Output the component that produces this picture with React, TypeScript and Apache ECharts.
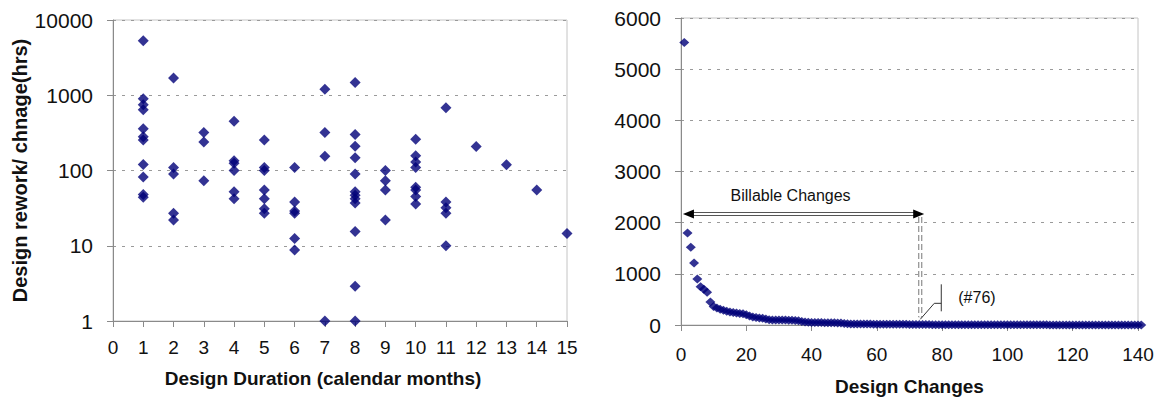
import React, { useEffect, useRef } from "react";
import * as echarts from "echarts";

// Left chart: design duration (months) vs design rework per change (hrs)
const durationMonths = [
  1, 1, 1, 1, 1, 1, 1, 1, 1, 1, 1,
  2, 2, 2, 2, 2,
  3, 3, 3,
  4, 4, 4, 4, 4, 4,
  5, 5, 5, 5, 5, 5, 5,
  6, 6, 6, 6, 6, 6,
  7, 7, 7, 7,
  8, 8, 8, 8, 8, 8, 8, 8, 8, 8, 8, 8,
  9, 9, 9, 9,
  10, 10, 10, 10, 10, 10, 10, 10,
  11, 11, 11, 11, 11,
  12, 13, 14, 15,
];
const reworkHours = [
  5300, 900, 750, 640, 360, 280, 255, 120, 82, 48, 44,
  1700, 110, 90, 27, 22,
  320, 240, 73,
  450, 135, 125, 100, 52, 42,
  255, 110, 100, 55, 42, 31, 27,
  110, 38, 29, 27, 12.5, 8.8,
  1200, 320, 155, 1,
  1480, 300, 210, 148, 90, 52, 47, 42, 37, 15.5, 2.9, 1,
  100, 73, 55, 22,
  260, 157, 130, 110, 60, 55, 45, 36,
  680, 38, 32, 27, 10,
  208, 119, 55, 14.5,
];

// Right chart: rework per design change, ranked (change #1 .. #141)
const rankedRework = [
  5520, 1800, 1520, 1210, 900, 750, 700, 640, 450, 360,
  330, 310, 290, 270, 255, 245, 235, 225, 220, 200,
  175, 155, 145, 135, 130, 115, 105, 100, 100, 98,
  97, 96, 95, 92, 90, 85, 70, 58, 52, 50,
  50, 48, 47, 46, 45, 44, 42, 40, 38, 28,
  22, 21, 20, 20, 19, 19, 18, 18, 17, 17,
  16, 16, 15, 15, 15, 14, 14, 13, 13, 12,
  12, 12, 11, 11, 10, 10,
  6, 6, 6, 5, 5, 5, 5, 5, 5, 5,
  5, 4, 4, 4, 4, 4, 4, 4, 4, 4,
  4, 4, 4, 3, 3, 3, 3, 3, 3, 3,
  3, 3, 3, 3, 3, 3, 2, 2, 2, 2,
  2, 2, 2, 2, 2, 2, 2, 2, 2, 2,
  2, 2, 2, 1, 1, 1, 1, 1, 1, 1,
  1, 1, 1, 1, 1,
];

// Annotation anchors (data coordinates of the right chart)
const billableStart = 0.6;
const billableEnd = 74.5;
const billableLevel = 2170;
const cutoffIndex = 73.3;
const cutoffLow = 150;
const billableLabel = "Billable Changes";
const cutoffLabel = "(#76)";

const FONT = "'Liberation Sans', Arial, sans-serif";
const NAVY = "#000078";
const AXIS = "#8a8a8a";
const GRID = "#9a9a9a";

export default function App() {
  const ref = useRef<HTMLDivElement>(null);

  useEffect(() => {
    if (!ref.current) return;
    const chart = echarts.init(ref.current, null, { renderer: "svg" });

    const leftData = durationMonths.map((m, i) => [m, reworkHours[i]]);
    const rightData = rankedRework.map((v, i) => [i + 1, v]);

    const splitLine = {
      show: true,
      lineStyle: { color: GRID, type: [3, 6] as any, width: 1 },
    };

    chart.setOption({
      animation: false,
      textStyle: { fontFamily: FONT },
      grid: [
        {
          left: 113, top: 20, width: 454, height: 301,
          show: true, borderColor: "#c4c4c4", borderWidth: 1,
          containLabel: false, outerBoundsMode: "none",
        },
        {
          left: 681, top: 18, width: 457, height: 307,
          show: true, borderColor: "#c4c4c4", borderWidth: 1,
          containLabel: false, outerBoundsMode: "none",
        },
      ],
      xAxis: [
        {
          gridIndex: 0, type: "value", min: 0, max: 15, interval: 1,
          axisLine: { show: true, lineStyle: { color: AXIS } },
          axisTick: { show: true, length: 6, lineStyle: { color: AXIS } },
          axisLabel: { fontSize: 19, color: "#111", margin: 17, fontFamily: FONT },
          splitLine: { show: false },
          name: "Design Duration (calendar months)",
          nameLocation: "middle", nameGap: 48,
          nameTextStyle: {
            fontSize: 19, fontWeight: "bold", color: "#111", fontFamily: FONT,
            padding: [0, 34, 0, 0],
          },
        },
        {
          gridIndex: 1, type: "value", min: 0, max: 140, interval: 20,
          axisLine: { show: true, lineStyle: { color: AXIS } },
          axisTick: { show: true, length: 6, lineStyle: { color: AXIS } },
          axisLabel: { fontSize: 19, color: "#111", margin: 20, fontFamily: FONT },
          splitLine: { show: false },
          name: "Design Changes",
          nameLocation: "middle", nameGap: 52,
          nameTextStyle: { fontSize: 19, fontWeight: "bold", color: "#111", fontFamily: FONT },
        },
      ],
      yAxis: [
        {
          gridIndex: 0, type: "log", logBase: 10, min: 1, max: 10000,
          axisLine: { show: true, lineStyle: { color: AXIS } },
          axisTick: { show: true, length: 6, lineStyle: { color: AXIS } },
          axisLabel: {
            fontSize: 21, color: "#111", margin: 20, fontFamily: FONT,
            formatter: (v: number) => String(Math.round(v)),
          },
          splitLine,
          name: "Design rework/ chnage(hrs)",
          nameLocation: "middle", nameGap: 83,
          nameTextStyle: { fontSize: 20, fontWeight: "bold", color: "#111", fontFamily: FONT },
        },
        {
          gridIndex: 1, type: "value", min: 0, max: 6000, interval: 1000,
          axisLine: { show: true, lineStyle: { color: AXIS } },
          axisTick: { show: true, length: 6, lineStyle: { color: AXIS } },
          axisLabel: {
            fontSize: 21, color: "#111", margin: 20, fontFamily: FONT,
            formatter: (v: number) => String(v),
          },
          splitLine,
        },
      ],
      series: [
        {
          type: "scatter", xAxisIndex: 0, yAxisIndex: 0,
          data: leftData, symbol: "diamond", symbolSize: [11, 11],
          itemStyle: { color: NAVY }, clip: false,
        },
        {
          type: "scatter", xAxisIndex: 1, yAxisIndex: 1,
          data: rightData, symbol: "diamond", symbolSize: [10, 9],
          itemStyle: { color: NAVY }, clip: false,
        },
      ],
    });

    const p = (x: number, y: number) =>
      chart.convertToPixel({ gridIndex: 1 } as any, [x, y]) as number[];
    const a0 = p(billableStart, billableLevel);
    const a1 = p(billableEnd, billableLevel);
    const v0 = p(cutoffIndex, billableLevel);
    const v1 = p(cutoffIndex, cutoffLow);
    const ay = a0[1];
    const head = 11;

    chart.setOption({
      graphic: [
        {
          type: "line", silent: true,
          shape: { x1: a0[0] + head - 1, y1: ay, x2: a1[0] - head + 1, y2: ay },
          style: { stroke: "#555", lineWidth: 4 },
        },
        {
          type: "line", silent: true,
          shape: { x1: a0[0] + head - 2, y1: ay, x2: a1[0] - head + 2, y2: ay },
          style: { stroke: "#fff", lineWidth: 2 },
        },
        {
          type: "polygon", silent: true,
          shape: { points: [[a0[0], ay], [a0[0] + head, ay - 4.5], [a0[0] + head, ay + 4.5]] },
          style: { fill: "#000" },
        },
        {
          type: "polygon", silent: true,
          shape: { points: [[a1[0], ay], [a1[0] - head, ay - 4.5], [a1[0] - head, ay + 4.5]] },
          style: { fill: "#000" },
        },
        {
          type: "line", silent: true,
          shape: { x1: v0[0], y1: v0[1] + 3, x2: v1[0], y2: v1[1] },
          style: { stroke: "#777", lineWidth: 4, lineDash: [6, 3] },
        },
        {
          type: "line", silent: true,
          shape: { x1: v0[0], y1: v0[1] + 3, x2: v1[0], y2: v1[1] },
          style: { stroke: "#fff", lineWidth: 2, lineDash: [6, 3] },
        },
        {
          type: "polyline", silent: true,
          shape: {
            points: [
              [v1[0], v1[1] + 2],
              [v1[0] + 14, v1[1] - 14],
              [v1[0] + 21, v1[1] - 14],
            ],
          },
          style: { stroke: "#333", lineWidth: 1, fill: "none" },
        },
        {
          type: "line", silent: true,
          shape: { x1: v1[0] + 21, y1: v1[1] - 33, x2: v1[0] + 21, y2: v1[1] - 6 },
          style: { stroke: "#333", lineWidth: 1 },
        },
        {
          type: "text", silent: true,
          x: v1[0] + 38, y: v1[1] - 20,
          style: {
            text: cutoffLabel, fontSize: 16, fontFamily: FONT, fill: "#111",
            verticalAlign: "middle", align: "left",
          },
        },
        {
          type: "text", silent: true,
          x: (a0[0] + a1[0]) / 2 - 13, y: ay - 18,
          style: {
            text: billableLabel, fontSize: 16, fontFamily: FONT, fill: "#111",
            verticalAlign: "middle", align: "center",
          },
        },
      ],
    });

    return () => chart.dispose();
  }, []);

  return (
    <div
      ref={ref}
      style={{ position: "absolute", left: 0, top: 0, width: 1162, height: 398, background: "#fff" }}
    />
  );
}
